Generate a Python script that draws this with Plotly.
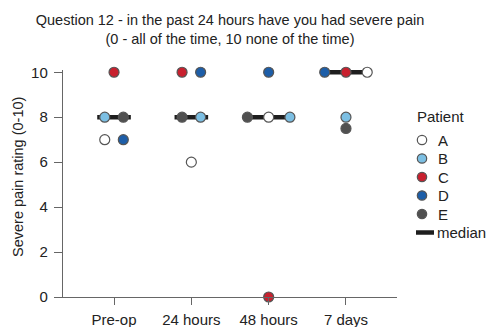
import numpy as np
import plotly.graph_objects as go

timepoints = ["Pre-op", "24 hours", "48 hours", "7 days"]
patients = ["A", "B", "C", "D", "E"]
scores = {
    "A": [7, 6, 8, 10],
    "B": [8, 8, 8, 8],
    "C": [10, 10, 0, 10],
    "D": [7, 10, 10, 10],
    "E": [8, 8, 8, 7.5],
}
yticks = [0, 2, 4, 6, 8, 10]
colors = {"A": "#ffffff", "B": "#7cbfe3", "C": "#c8202e", "D": "#1d5ea8", "E": "#505050"}
# left-to-right order of tied points within each timepoint
dodge_order = [
    ["B", "A", "E", "D", "C"],
    ["C", "E", "D", "B", "A"],
    ["E", "A", "B", "C", "D"],
    ["D", "C", "A", "B", "E"],
]
medians = [float(np.median([scores[p][i] for p in patients])) for i in range(len(timepoints))]

# compute dodge offsets for tied values
offsets = {p: [0.0] * len(timepoints) for p in patients}
for i in range(len(timepoints)):
    groups = {}
    for p in dodge_order[i]:
        groups.setdefault(scores[p][i], []).append(p)
    for v, members in groups.items():
        n = len(members)
        step = 0.24 if n == 2 else 0.275
        for k, p in enumerate(members):
            offsets[p][i] = (k - (n - 1) / 2) * step

W, H = 491, 327
ML, MT = 63, 70
MR = W - 397
MB = H - 297
PW, PH = W - ML - MR, H - MT - MB

fig = go.Figure()
fig.add_trace(go.Scatter(
    x=list(range(len(timepoints))), y=medians, mode="markers", name="median",
    marker=dict(symbol="line-ew", size=24, line=dict(width=4.5, color="#1e1e1e")),
    cliponaxis=False, showlegend=False, hoverinfo="skip",
))
for p in patients:
    fig.add_trace(go.Scatter(
        x=[i + offsets[p][i] for i in range(len(timepoints))], y=scores[p],
        mode="markers", name=p, cliponaxis=False, showlegend=False,
        marker=dict(size=10, color=colors[p], line=dict(width=1.2, color="#555555")),
    ))

font = "Liberation Sans, Arial, sans-serif"
axcol = "#666666"

# manual legend (compact spacing); positions given in page pixels
def px_x(px):
    return (px - ML) / PW

def px_y(py):
    return (H - MB - py) / PH

shapes, annotations = [], []
leg_mark_x, leg_text_x, leg_first_y, leg_step = 422, 436, 140, 18.5
annotations.append(dict(text="Patient", xref="paper", yref="paper", x=px_x(415), y=px_y(116),
                        xanchor="left", yanchor="middle", showarrow=False,
                        font=dict(size=15, family=font, color="#222222")))
for k, p in enumerate(patients):
    yy = px_y(leg_first_y + k * leg_step)
    shapes.append(dict(type="circle", xref="paper", yref="paper", xsizemode="pixel", ysizemode="pixel",
                       xanchor=px_x(leg_mark_x), yanchor=yy, x0=-4.7, x1=4.7, y0=-4.7, y1=4.7,
                       fillcolor=colors[p], line=dict(color="#555555", width=1.2), layer="above"))
    annotations.append(dict(text=p, xref="paper", yref="paper", x=px_x(leg_text_x), y=yy,
                            xanchor="left", yanchor="middle", showarrow=False,
                            font=dict(size=15, family=font, color="#222222")))
ym = px_y(leg_first_y + len(patients) * leg_step)
shapes.append(dict(type="line", xref="paper", yref="paper", xsizemode="pixel", ysizemode="pixel",
                   xanchor=px_x(425), yanchor=ym, x0=-9, x1=9, y0=0, y1=0,
                   line=dict(color="#1e1e1e", width=4.5), layer="above"))
annotations.append(dict(text="median", xref="paper", yref="paper", x=px_x(435), y=ym,
                        xanchor="left", yanchor="middle", showarrow=False,
                        font=dict(size=15, family=font, color="#222222")))
# y-axis title
annotations.append(dict(text="Severe pain rating (0-10)", xref="paper", yref="paper",
                        x=px_x(18), y=px_y(177), xanchor="center", yanchor="middle",
                        textangle=-90, showarrow=False,
                        font=dict(size=14.5, family=font, color="#222222")))

fig.update_layout(
    width=W, height=H,
    margin=dict(l=ML, r=MR, t=MT, b=MB, autoexpand=False),
    plot_bgcolor="white", paper_bgcolor="white",
    font=dict(family=font, color="#222222", size=15),
    showlegend=False,
    title=dict(
        text="Question 12 - in the past 24 hours have you had severe pain<br>(0 - all of the time, 10 none of the time)",
        x=(ML + PW / 2) / W, xanchor="center", y=0.9245, yanchor="top",
        font=dict(size=14.5, family=font, color="#222222"),
    ),
    xaxis=dict(
        range=[-0.66, 3.66], tickmode="array", tickvals=list(range(len(timepoints))),
        ticktext=timepoints, showgrid=False, zeroline=False, showline=True, automargin=False,
        linecolor=axcol, linewidth=1.4, ticks="outside", ticklen=7, tickwidth=1.4, tickcolor=axcol,
        tickfont=dict(size=15), ticklabelstandoff=2,
    ),
    yaxis=dict(
        range=[0, 10.1], tickvals=yticks, showgrid=False, zeroline=False, automargin=False,
        showline=True, linecolor=axcol, linewidth=1.4, ticks="outside", ticklen=8, tickwidth=1.4,
        tickcolor=axcol, tickfont=dict(size=15), ticklabelstandoff=3,
    ),
    shapes=shapes, annotations=annotations,
)
fig.write_html(
    "out.html",
    config={"displayModeBar": False},
    post_script="document.body.style.margin='0';document.body.style.overflow='hidden';",
)
